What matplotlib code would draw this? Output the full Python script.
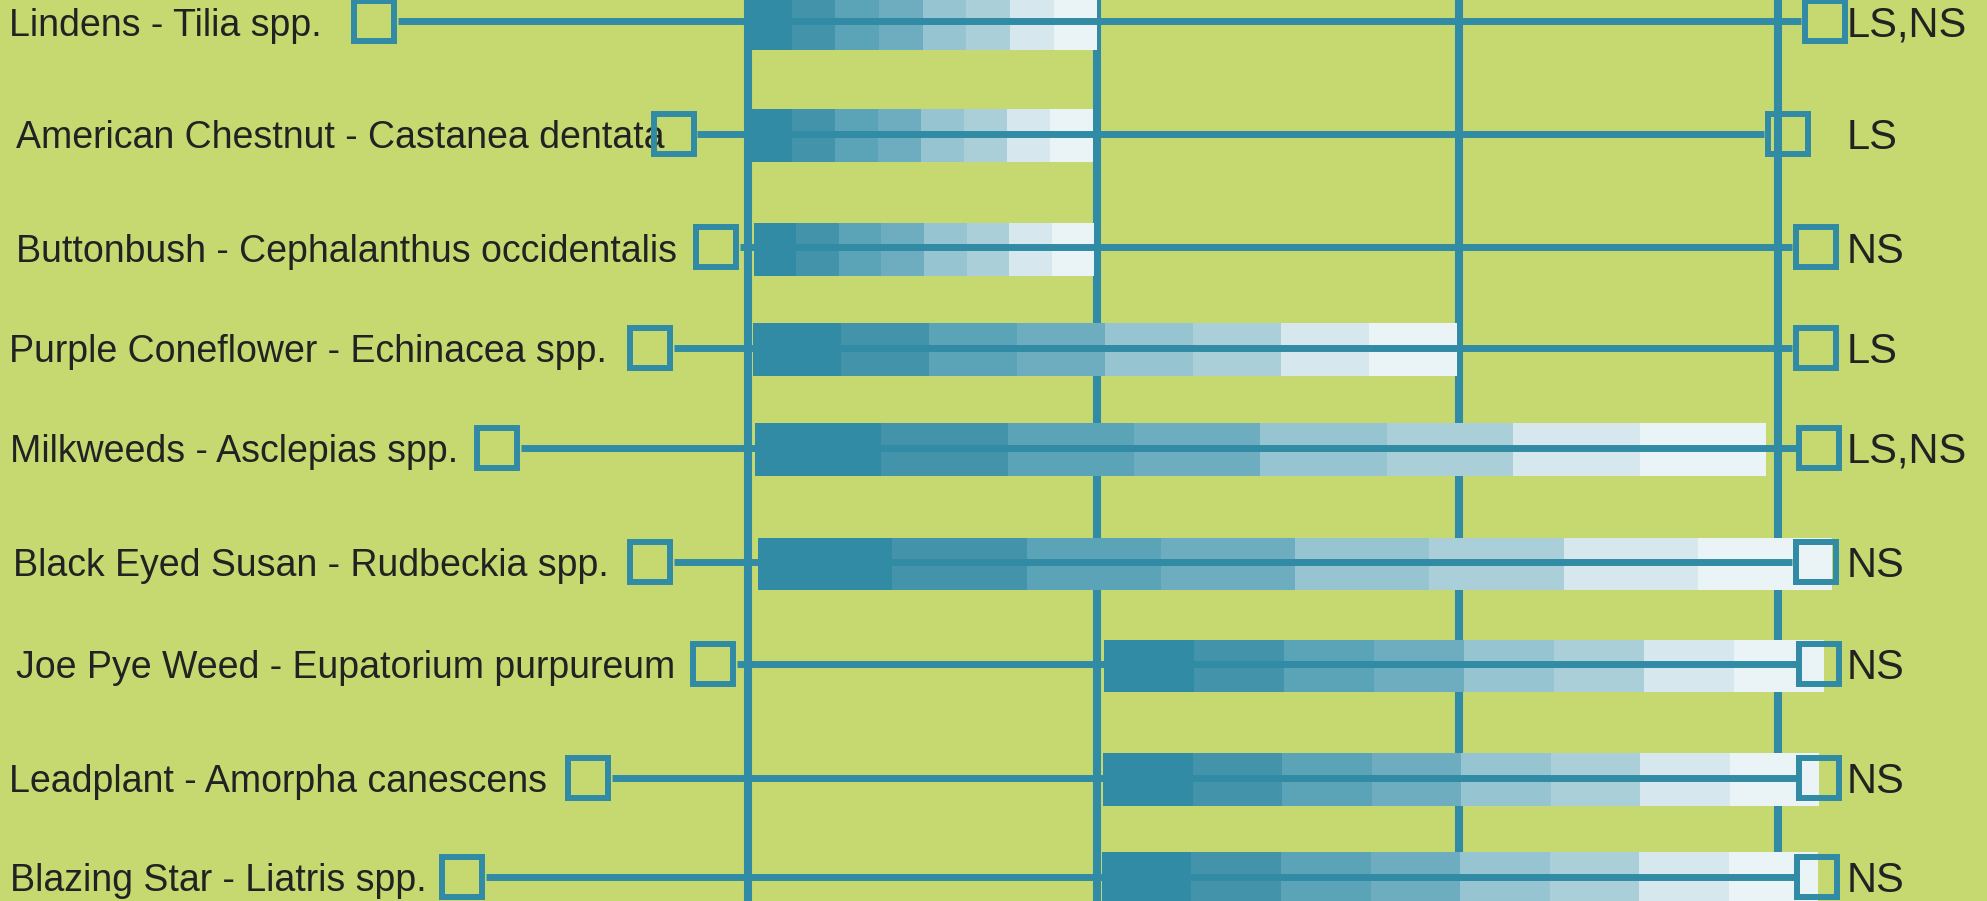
import matplotlib.pyplot as plt

# bloom chart: plant, bloom window (months), range whiskers, habitat tag
plants = [
    'Lindens - Tilia spp.',
    'American Chestnut - Castanea dentata',
    'Buttonbush - Cephalanthus occidentalis',
    'Purple Coneflower - Echinacea spp.',
    'Milkweeds - Asclepias spp.',
    'Black Eyed Susan - Rudbeckia spp.',
    'Joe Pye Weed - Eupatorium purpureum',
    'Leadplant - Amorpha canescens',
    'Blazing Star - Liatris spp.',
]
bloom_start = [6.000, 6.003, 6.017, 6.015, 6.020, 6.029, 7.037, 7.034, 7.031]
bloom_end = [7.017, 7.005, 7.008, 8.065, 8.965, 9.158, 9.134, 9.120, 9.117]
range_low = [4.911, 5.784, 5.907, 5.715, 5.269, 5.715, 5.898, 5.534, 5.167]
range_high = [9.137, 9.029, 9.110, 9.110, 9.121, 9.110, 9.120, 9.120, 9.115]
habitat = ['LS,NS', 'LS', 'NS', 'LS', 'LS,NS', 'NS', 'NS', 'NS', 'NS']
month_marks = [6.000, 7.017, 8.071, 9.000]

# layout: rows are not evenly spaced in the original, labels slightly indented
row_pos = [0, 1.048, 2.114, 3.050, 3.985, 5.052, 6.006, 7.072, 7.998]
label_indent = [6.5, 11.5, 11.5, 6.5, 7.2, 9.4, 11.5, 6.5, 7.2]

bg = '#c6d971'
teal = '#318ba4'
shades = ['#318ba4', '#4394ab', '#5ba3b6', '#6dadbf',
          '#96c4d0', '#abcfd9', '#d6e7ee', '#eaf3f6']
txt = '#222222'
plt.rcParams['font.family'] = ['Liberation Sans', 'DejaVu Sans']

fig = plt.figure(figsize=(19.87, 9.01), dpi=100)
fig.set_facecolor(bg)
ax = fig.add_axes([0, 0, 1, 1])
ax.set_xlim(3.821, 9.609)
ax.set_ylim(8.227, -0.201)
ax.axis('off')

# half the square marker size in data units, so the whisker stops at the box edge
px_per_unit = fig.bbox.width / (9.609 - 3.821)
half_sq = 23.5 / px_per_unit

for m in month_marks:
    ax.axvline(m, color=teal, lw=5.8, zorder=1)

for i, name in enumerate(plants):
    y = row_pos[i]
    w = (bloom_end[i] - bloom_start[i]) / len(shades)
    lefts = [bloom_start[i] + k * w for k in range(len(shades))]
    ax.barh([y + 0.02] * len(shades), [w] * len(shades), left=lefts,
            height=0.49, color=shades, linewidth=0, zorder=2)
    ax.plot([range_low[i] + half_sq, range_high[i] - half_sq], [y, y],
            color=teal, lw=5.0, solid_capstyle='butt', zorder=3)
    ax.plot([range_low[i], range_high[i]], [y, y], ls='none', marker='s',
            ms=29.5, mfc='none', mec=teal, mew=4.3, zorder=5)
    ax.annotate(name, xy=(0, y), xycoords=('axes fraction', 'data'),
                xytext=(label_indent[i], -10.2), textcoords='offset points',
                fontsize=27, color=txt, ha='left', va='baseline', zorder=4)
    ax.annotate(habitat[i], xy=(9.201, y), xytext=(0, -11.0),
                textcoords='offset points', fontsize=30, color=txt,
                ha='left', va='baseline', zorder=4)

plt.savefig('out.png', dpi=100, facecolor=bg)
